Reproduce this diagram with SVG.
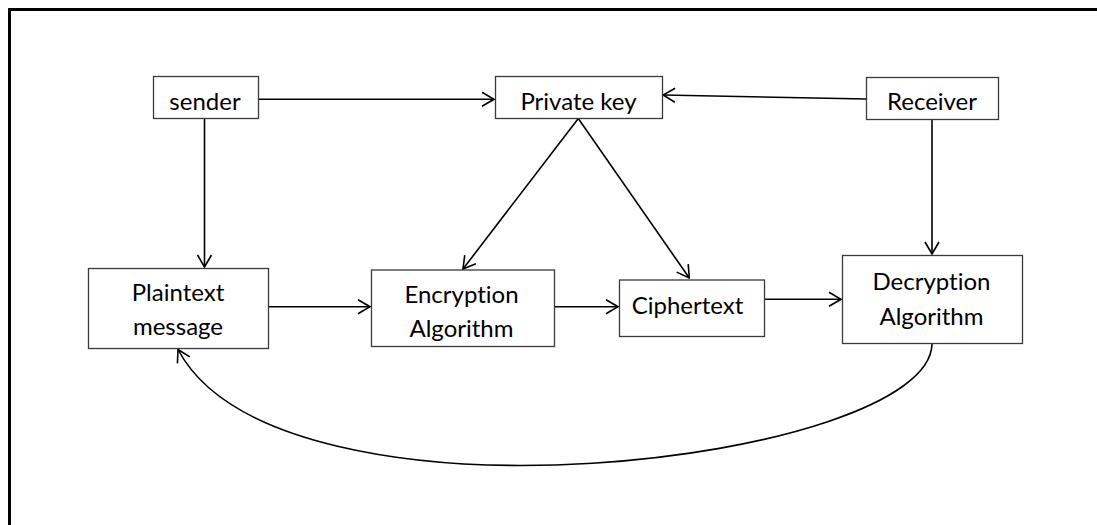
<svg xmlns="http://www.w3.org/2000/svg" width="1097" height="525" viewBox="0 0 1097 525">
<style>
.box{fill:#fff;stroke:#3a3a3a;stroke-width:1.3}
.lbl{font-family:Lato,"Liberation Sans",sans-serif;font-size:24px;fill:#000;text-anchor:middle;font-variant-ligatures:none;font-feature-settings:"liga" 0,"clig" 0}
.c{fill:none;stroke:#000;stroke-width:1.6}
</style>
<defs>
<marker id="ah" viewBox="0 0 14 16" refX="13" refY="8" markerWidth="14" markerHeight="16" markerUnits="userSpaceOnUse" orient="auto">
<path d="M1,1 L13,8 L1,15" fill="none" stroke="#000" stroke-width="1.6"/>
</marker>
</defs>
<rect x="0" y="0" width="1097" height="525" fill="#fff"/>
<path d="M9.5,540 L9.5,9.5 L1100,9.5" fill="none" stroke="#000" stroke-width="3"/>
<g id="connectors">
<path class="c" d="M258,99.3 L494,99.3" marker-end="url(#ah)"/>
<path class="c" d="M866,99 L663,95" marker-end="url(#ah)"/>
<path class="c" d="M204.5,118 L204.5,267" marker-end="url(#ah)"/>
<path class="c" d="M578.3,118.5 L463,269" marker-end="url(#ah)"/>
<path class="c" d="M578.3,118.5 L689.3,278" marker-end="url(#ah)"/>
<path class="c" d="M932,119 L932,254" marker-end="url(#ah)"/>
<path class="c" d="M268.5,306.7 L370,306.7" marker-end="url(#ah)"/>
<path class="c" d="M554,306.7 L618,306.7" marker-end="url(#ah)"/>
<path class="c" d="M764,299.3 L841,299.3" marker-end="url(#ah)"/>
<path class="c" d="M932,344 C930,462 280,542 178,349.5" marker-end="url(#ah)"/>
</g>
<g id="sender">
<rect class="box" x="153.5" y="76.5" width="105" height="42"/>
<text class="lbl" x="205" y="110">sender</text>
</g>
<g id="private-key">
<rect class="box" x="495.5" y="76.5" width="167" height="42"/>
<text class="lbl" x="578.5" y="110">Private key</text>
</g>
<g id="receiver">
<rect class="box" x="866.5" y="77.5" width="132" height="42"/>
<text class="lbl" x="932" y="110">Receiver</text>
</g>
<g id="plaintext">
<rect class="box" x="88.5" y="268.5" width="180" height="80"/>
<text class="lbl" x="178" y="301">Plaintext</text>
<text class="lbl" x="178" y="335">message</text>
</g>
<g id="encryption">
<rect class="box" x="371.5" y="270" width="183" height="76.5"/>
<text class="lbl" x="461.5" y="302.5">Encryption</text>
<text class="lbl" x="461.5" y="337">Algorithm</text>
</g>
<g id="ciphertext">
<rect class="box" x="619.5" y="280" width="145" height="56.5"/>
<text class="lbl" x="687.5" y="313.5">Ciphertext</text>
</g>
<g id="decryption">
<rect class="box" x="842.5" y="255.5" width="180" height="88"/>
<text class="lbl" x="931.5" y="289.5">Decryption</text>
<text class="lbl" x="931.5" y="324.5">Algorithm</text>
</g>
</svg>
